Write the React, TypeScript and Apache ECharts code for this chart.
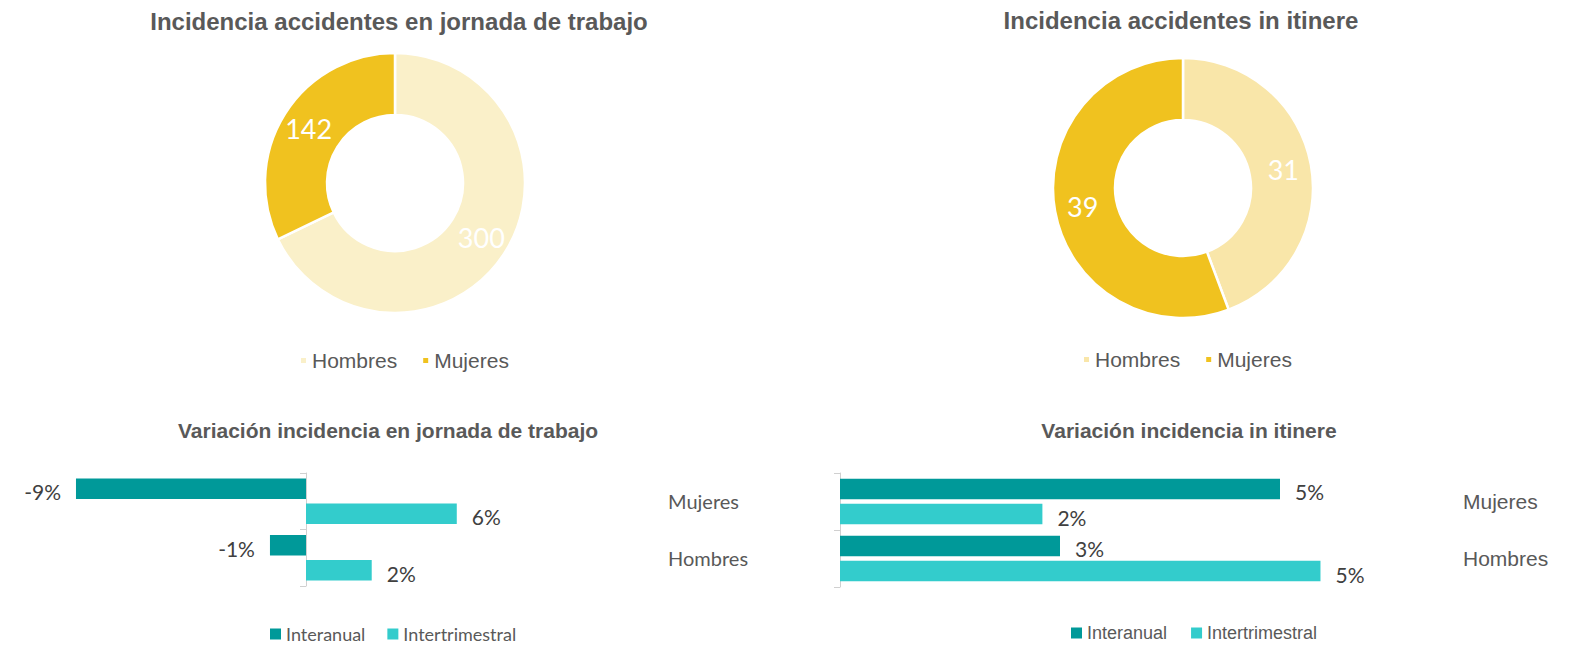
import React, { useEffect, useRef } from 'react';
import * as echarts from 'echarts';

// ---- Data ----
const sexLabels = ['Hombres', 'Mujeres'];
const jornadaCounts = [300, 142];
const itinereCounts = [31, 39];

const barCategories = ['Mujeres', 'Hombres'];
const barSeriesNames = ['Interanual', 'Intertrimestral'];
const jornadaInteranual = [-8.68, -1.36];
const jornadaIntertrimestral = [5.69, 2.48];
const itinereInteranual = [5.0, 2.5];
const itinereIntertrimestral = [2.3, 5.46];

const titles = [
  'Incidencia accidentes en jornada de trabajo',
  'Incidencia accidentes in itinere',
  'Variación incidencia en jornada de trabajo',
  'Variación incidencia in itinere',
];

// ---- Styles ----
const ARIAL = '"Liberation Sans", Arial, sans-serif';
const GEO = 'Lato, "Open Sans", sans-serif';
const GRAY = '#595959';
const jornadaColors = ['#FAF0C9', '#F0C21F'];
const itinereColors = ['#F9E6A9', '#F0C21F'];
const barColors = ['#009999', '#33CCCC'];
const AXIS_GRAY = '#D0D0D0';

function pieData(values: number[], colors: string[]) {
  return sexLabels.map((n, i) => ({ name: n, value: values[i], itemStyle: { color: colors[i] } }));
}

function barData(values: number[]) {
  return values.map((v) => ({ value: v, label: { position: v < 0 ? 'left' : 'right' } }));
}

export default function App() {
  const ref = useRef<HTMLDivElement>(null);
  useEffect(() => {
    if (!ref.current) return;
    const chart = echarts.init(ref.current, undefined, { renderer: 'svg' });

    const pieCommon = {
      type: 'pie',
      radius: [68, 130],
      startAngle: 90,
      clockwise: true,
      avoidLabelOverlap: false,
      label: {
        show: true,
        position: 'inside',
        formatter: '{c}',
        color: '#ffffff',
        fontFamily: GEO,
        fontSize: 27,
      },
      labelLine: { show: false },
      itemStyle: { borderColor: '#ffffff', borderWidth: 2.5 },
      emphasis: { disabled: true },
    };

    const barLabel = (font: string) => ({
      show: true,
      formatter: (p: any) => Math.round(p.value) + '%',
      distance: 15,
      color: '#404040',
      fontFamily: font,
      fontSize: 21,
      offset: [0, 3],
    });

    const barCommon = {
      type: 'bar',
      barWidth: 20.5,
      barGap: '22%',
      emphasis: { disabled: true },
    };

    const titleStyle = (size: number) => ({
      fontSize: size,
      fontWeight: 'bold',
      fontFamily: ARIAL,
      fill: GRAY,
      align: 'center',
      verticalAlign: 'middle',
    });

    const option: any = {
      animation: false,
      graphic: [
        { type: 'text', x: 399, y: 21, style: { text: titles[0], ...titleStyle(24) } },
        { type: 'text', x: 1181, y: 20, style: { text: titles[1], ...titleStyle(24) } },
        { type: 'text', x: 388, y: 430, style: { text: titles[2], ...titleStyle(21) } },
        { type: 'text', x: 1189, y: 430, style: { text: titles[3], ...titleStyle(21) } },
      ],
      legend: [
        {
          data: sexLabels.map((n, i) => ({ name: n, itemStyle: { color: jornadaColors[i] } })),
          left: 299, top: 350, padding: 0, icon: 'rect', itemWidth: 7, itemHeight: 7, itemGap: 24,
          selectedMode: false,
          textStyle: { fontFamily: ARIAL, fontSize: 21, color: GRAY },
        },
        {
          data: sexLabels.map((n, i) => ({ name: n, itemStyle: { color: itinereColors[i] } })),
          left: 1082, top: 349, padding: 0, icon: 'rect', itemWidth: 7, itemHeight: 7, itemGap: 24,
          selectedMode: false,
          textStyle: { fontFamily: ARIAL, fontSize: 21, color: GRAY },
        },
        {
          data: barSeriesNames.map((n, i) => ({ name: n, itemStyle: { color: barColors[i] } })),
          left: 270, top: 625, padding: 0, icon: 'rect', itemWidth: 11, itemHeight: 11, itemGap: 22,
          selectedMode: false,
          textStyle: { fontFamily: GEO, fontSize: 18, color: GRAY },
        },
        {
          data: barSeriesNames.map((n, i) => ({ name: n, itemStyle: { color: barColors[i] } })),
          left: 1071, top: 624, padding: 0, icon: 'rect', itemWidth: 11, itemHeight: 11, itemGap: 24,
          selectedMode: false,
          textStyle: { fontFamily: ARIAL, fontSize: 18, color: GRAY },
        },
      ],
      grid: [
        { left: 41, top: 473, width: 477, height: 113, outerBoundsMode: 'none' },
        { left: 840, top: 473, width: 528, height: 114, outerBoundsMode: 'none' },
      ],
      xAxis: [
        { gridIndex: 0, type: 'value', min: -10, max: 8, show: false },
        { gridIndex: 1, type: 'value', min: 0, max: 6, show: false },
      ],
      yAxis: [
        {
          gridIndex: 0, type: 'category', data: barCategories, inverse: true,
          axisLine: { show: true, onZero: true, lineStyle: { color: AXIS_GRAY } },
          axisTick: { show: true, length: 6, lineStyle: { color: AXIS_GRAY } },
          axisLabel: { margin: -627, align: 'left', color: GRAY, fontFamily: GEO, fontSize: 20 },
          splitLine: { show: false },
        },
        {
          gridIndex: 1, type: 'category', data: barCategories, inverse: true,
          axisLine: { show: true, onZero: true, lineStyle: { color: AXIS_GRAY } },
          axisTick: { show: true, length: 6, lineStyle: { color: AXIS_GRAY } },
          axisLabel: { margin: -623, align: 'left', color: GRAY, fontFamily: ARIAL, fontSize: 21 },
          splitLine: { show: false },
        },
      ],
      series: [
        { ...pieCommon, name: 'jornada', center: [395, 183], data: pieData(jornadaCounts, jornadaColors) },
        { ...pieCommon, name: 'itinere', center: [1183, 188], data: pieData(itinereCounts, itinereColors) },
        {
          ...barCommon, name: barSeriesNames[0], xAxisIndex: 0, yAxisIndex: 0,
          data: barData(jornadaInteranual), itemStyle: { color: barColors[0] }, label: barLabel(GEO),
        },
        {
          ...barCommon, name: barSeriesNames[1], xAxisIndex: 0, yAxisIndex: 0,
          data: barData(jornadaIntertrimestral), itemStyle: { color: barColors[1] }, label: barLabel(GEO),
        },
        {
          ...barCommon, name: barSeriesNames[0], xAxisIndex: 1, yAxisIndex: 1,
          data: barData(itinereInteranual), itemStyle: { color: barColors[0] }, label: barLabel(GEO),
        },
        {
          ...barCommon, name: barSeriesNames[1], xAxisIndex: 1, yAxisIndex: 1,
          data: barData(itinereIntertrimestral), itemStyle: { color: barColors[1] }, label: barLabel(GEO),
        },
      ],
    };

    chart.setOption(option);
    return () => chart.dispose();
  }, []);

  return (
    <div
      ref={ref}
      style={{ position: 'fixed', left: 0, top: 0, width: 1573, height: 645, background: '#ffffff' }}
    />
  );
}
